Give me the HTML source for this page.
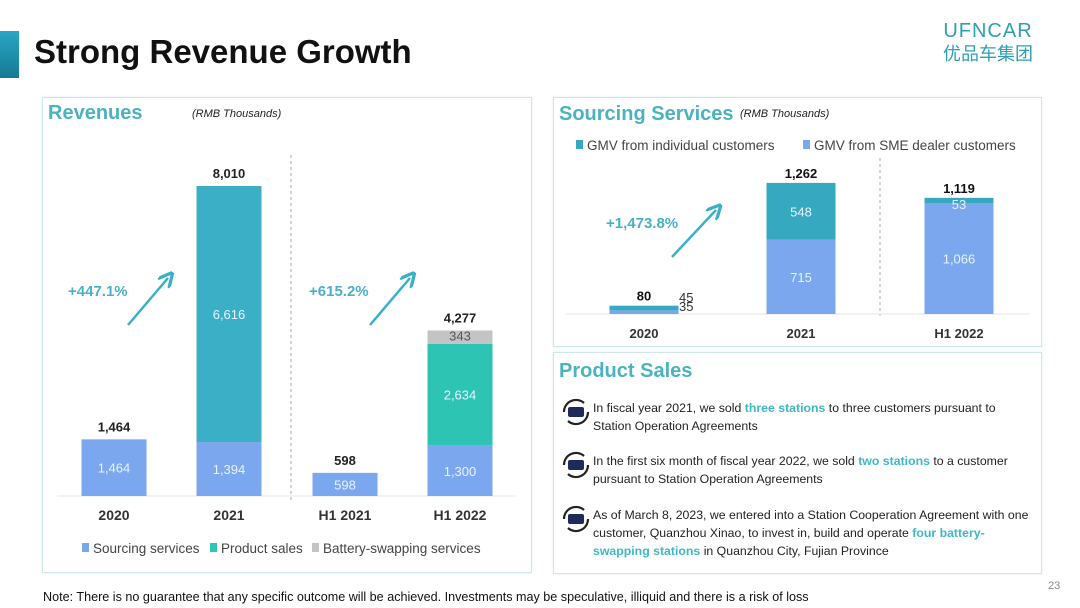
<!DOCTYPE html>
<html><head><meta charset="utf-8"><style>
body{margin:0;width:1080px;height:608px;background:#fff;font-family:"Liberation Sans","Noto Sans CJK SC",sans-serif;position:relative;overflow:hidden}
.abs{position:absolute}
.panel{position:absolute;border:1px solid #cfe6ea;box-shadow:0 0 3px #e3f0f2}
.item{position:absolute;left:40px;font-size:12.3px;color:#222;line-height:18px;width:436px}
.hl{color:#3fb8c4;font-weight:bold}
</style></head><body>
<div class="abs" style="left:0;top:31px;width:19px;height:47px;background:linear-gradient(#2aa6c4,#157b95)"></div>
<div class="abs" style="left:34px;top:33px;font-size:33px;font-weight:bold;color:#111">Strong Revenue Growth</div>
<div class="abs" style="left:936px;top:20px;color:#2e9fb4;text-align:center;width:104px;white-space:nowrap">
<div style="font-size:20px;letter-spacing:1px;line-height:22px">UFNCAR</div>
<div style="font-size:18px;line-height:24px">优品车集团</div></div>

<div class="panel" style="left:42px;top:97px;width:488px;height:474px"></div>
<div class="panel" style="left:553px;top:97px;width:487px;height:248px"></div>
<div class="panel" style="left:553px;top:352px;width:487px;height:220px"></div>

<svg class="abs" style="left:0;top:0" width="1080" height="608">
<defs><marker id="ah" markerWidth="6" markerHeight="6" refX="3" refY="3" orient="auto"><path d="M0,0L6,3L0,6" fill="none" stroke="#3ab0c8" stroke-width="1.3"/></marker></defs>
<text x="48" y="119" font-size="20" font-weight="bold" fill="#4bb3bd">Revenues</text>
<text x="192" y="117" font-size="11" font-style="italic" fill="#222">(RMB Thousands)</text>
<text x="559" y="120" font-size="20" font-weight="bold" fill="#4bb3bd">Sourcing Services</text>
<text x="740" y="117" font-size="11" font-style="italic" fill="#222">(RMB Thousands)</text>
<text x="559" y="377" font-size="20" font-weight="bold" fill="#4bb3bd">Product Sales</text>
<line x1="291" y1="155" x2="291" y2="500" stroke="#aaa" stroke-dasharray="3,3"/>
<line x1="880" y1="158" x2="880" y2="316" stroke="#aaa" stroke-dasharray="3,3"/>
<line x1="57" y1="496" x2="515" y2="496" stroke="#e4e4e4"/>
<line x1="566" y1="314" x2="1030" y2="314" stroke="#e4e4e4"/>
<g id="left" font-size="13"></g><g id="right" font-size="13"></g>
<text x="68" y="296" font-size="15" font-weight="bold" fill="#4ab0c8">+447.1%</text>
<line x1="128" y1="325" x2="168" y2="278" stroke="#3ab0c8" stroke-width="2.5" marker-end="url(#ah)"/>
<text x="309" y="296" font-size="15" font-weight="bold" fill="#4ab0c8">+615.2%</text>
<line x1="370" y1="325" x2="410" y2="278" stroke="#3ab0c8" stroke-width="2.5" marker-end="url(#ah)"/>
<text x="606" y="228" font-size="15" font-weight="bold" fill="#4ab0c8">+1,473.8%</text>
<line x1="672" y1="257" x2="716" y2="210" stroke="#3ab0c8" stroke-width="2.5" marker-end="url(#ah)"/>
<g font-size="13.5" fill="#444">
<rect x="82" y="543" width="7" height="9" fill="#7aa7ee"/><text x="93" y="553">Sourcing services</text>
<rect x="210" y="543" width="7" height="9" fill="#2ec4b4"/><text x="221" y="553">Product sales</text>
<rect x="312" y="543" width="7" height="9" fill="#c4c4c4"/><text x="323" y="553">Battery-swapping services</text></g>
<g font-size="13.5" fill="#444">
<rect x="576" y="140" width="7" height="9" fill="#36a8bf"/><text x="587" y="150">GMV from individual customers</text>
<rect x="803" y="140" width="7" height="9" fill="#7aa7ee"/><text x="814" y="150">GMV from SME dealer customers</text></g>
</svg>

<div class="item" style="left:593px;top:399px">In fiscal year 2021, we sold <span class="hl">three stations</span> to three customers pursuant to Station Operation Agreements</div>
<div class="item" style="left:593px;top:452px">In the first six month of fiscal year 2022, we sold <span class="hl">two stations</span> to a customer pursuant to Station Operation Agreements</div>
<div class="item" style="left:593px;top:506px">As of March 8, 2023, we entered into a Station Cooperation Agreement with one customer, Quanzhou Xinao, to invest in, build and operate <span class="hl">four battery-swapping stations</span> in Quanzhou City, Fujian Province</div>
<svg class="abs" style="left:560px;top:398px" width="32" height="160">
<g id="icons"></g></svg>

<div class="abs" style="left:43px;top:590px;font-size:12.6px;color:#111">Note: There is no guarantee that any specific outcome will be achieved. Investments may be speculative, illiquid and there is a risk of loss</div>
<div class="abs" style="left:1048px;top:580px;font-size:11px;color:#888">23</div>

<script>
const NS='http://www.w3.org/2000/svg';
const revCategories=['2020','2021','H1 2021','H1 2022'];
const revSourcing=[1464,1394,598,1300];
const revProduct=[0,6616,0,2634];
const revBattery=[0,0,0,343];
const revTotals=[1464,8010,598,4277];
const srcCategories=['2020','2021','H1 2022'];
const srcSME=[35,715,1066];
const srcIndividual=[45,548,53];
const srcTotals=[80,1262,1119];

function el(tag,attrs,parent,txt){const e=document.createElementNS(NS,tag);for(const k in attrs)e.setAttribute(k,attrs[k]);if(txt!==undefined)e.textContent=txt;parent.appendChild(e);return e;}
const fmt=v=>v.toLocaleString('en-US');

const lBase=496, lScale=310/8010, lCenters=[114,229,345,460], lW=65;
const ly=v=>lBase-v*lScale;
const lx=i=>lCenters[i];
const L=document.getElementById('left');
revCategories.forEach((c,i)=>{
  let cum=0;
  const segs=[[revSourcing[i],'#7aa7ee','sourcing'],[revProduct[i],i===1?'#3aafc6':'#2ec4b4','product-sales'],[revBattery[i],'#c4c4c4','battery-swapping']];
  segs.forEach(([v,col,nm])=>{
    if(!v)return;
    const y0=ly(cum),y1=ly(cum+v);
    const r=el('rect',{x:lx(i)-lW/2,y:y1,width:lW,height:y0-y1,fill:col},L);
    
    
    const ty=(y0-y1)<20?y0-3:(y0+y1)/2+5;
    el('text',{x:lx(i),y:ty,'text-anchor':'middle',fill:nm==='battery-swapping'?'#555':'#e8f2ff'},L,fmt(v));
    cum+=v;
  });
  el('text',{x:lx(i),y:ly(revTotals[i])-8,'text-anchor':'middle','font-weight':'bold',fill:'#222'},L,fmt(revTotals[i]));
  const t=el('text',{x:lx(i),y:520,'text-anchor':'middle','font-weight':'bold','font-size':14,fill:'#333'},L,c);
  
  
});

const rBase=314, rScale=131/1262, rCenters=[644,801,959], rW=69;
const ry=v=>rBase-v*rScale;
const rx=i=>rCenters[i];
const R=document.getElementById('right');
srcCategories.forEach((c,i)=>{
  const y0=rBase,y1=ry(srcSME[i]),y2=ry(srcSME[i]+srcIndividual[i]);
  const a=el('rect',{x:rx(i)-rW/2,y:y1,width:rW,height:y0-y1,fill:'#7aa7ee'},R);
  
  
  const b=el('rect',{x:rx(i)-rW/2,y:y2,width:rW,height:y1-y2,fill:'#36a8bf'},R);
  
  
  if(i===0){
    el('text',{x:rx(i)+35,y:rBase-3,fill:'#333'},R,fmt(srcSME[i]));
    el('text',{x:rx(i)+35,y:rBase-12,fill:'#333'},R,fmt(srcIndividual[i]));
  } else {
    el('text',{x:rx(i),y:(y0+y1)/2+5,'text-anchor':'middle',fill:'#e8f2ff'},R,fmt(srcSME[i]));
    const ty=(y1-y2)<20?y2+11:(y1+y2)/2+5;
    el('text',{x:rx(i),y:ty,'text-anchor':'middle',fill:'#e8f2ff'},R,fmt(srcIndividual[i]));
  }
  el('text',{x:rx(i),y:ry(srcTotals[i])-5,'text-anchor':'middle','font-weight':'bold',fill:'#111'},R,fmt(srcTotals[i]));
  const t=el('text',{x:rx(i),y:338,'text-anchor':'middle','font-weight':'bold',fill:'#333'},R,c);
  
  
});

const I=document.getElementById('icons');
[14,67,121].forEach(cy=>{
  el('path',{d:`M${16-12},${cy} A12,12 0 0 1 ${16+8},${cy-9}`,fill:'none',stroke:'#222','stroke-width':2.2},I);
  el('path',{d:`M${16+12},${cy} A12,12 0 0 1 ${16-8},${cy+9}`,fill:'none',stroke:'#222','stroke-width':2.2},I);
  el('rect',{x:8,y:cy-5,width:16,height:10,rx:2,fill:'#1e2a5a'},I);
});
</script>
</body></html>
